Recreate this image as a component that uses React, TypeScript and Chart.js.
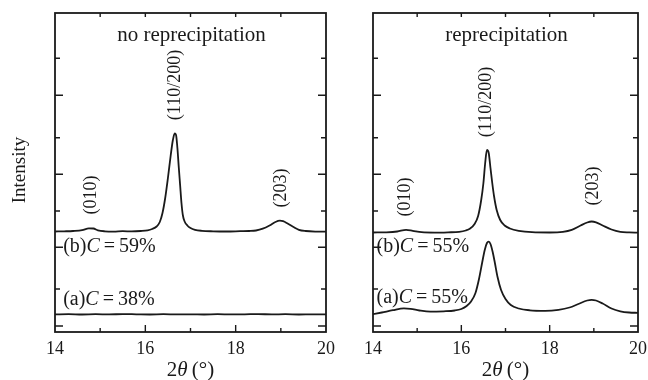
import React, { useEffect, useRef } from 'react';
import { Chart, registerables } from 'chart.js';
Chart.register(...registerables);

const FONT = '"Liberation Serif", "Times New Roman", serif';
const INK = '#1a1a1a';

// Axes
const xMin = 14;
const xMax = 20;
const xLabelTicks = [14, 16, 18, 20];
const xMinorTicks = [15, 17, 19];
const yMin = 0;
const yMax = 319;
const yTicks = [6, 43, 84.7, 121, 157.7, 194.3, 236.7, 273.7];

// Texts
const panelTitles = ['no reprecipitation', 'reprecipitation'];
const peakNames = ['(010)', '(110/200)', '(203)'];
const curveTags = ['(b)', '(a)'];
const leftConc = ['59%', '38%'];
const rightConc = ['55%', '55%'];
const yTitle = 'Intensity';

// Left panel, (b) C=59%
const leftB_x = [14.0, 14.2, 14.4, 14.6, 14.75, 14.85, 14.95, 15.1, 15.3, 15.5, 15.7, 15.9, 16.05, 16.15, 16.25, 16.32, 16.38, 16.44, 16.5, 16.56, 16.61, 16.65, 16.68, 16.71, 16.74, 16.77, 16.8, 16.83, 16.87, 16.93, 17.0, 17.1, 17.25, 17.5, 17.8, 18.1, 18.3, 18.45, 18.6, 18.75, 18.88, 18.98, 19.05, 19.15, 19.28, 19.4, 19.55, 19.8, 20.0];
const leftB_y = [100.5, 100.7, 101, 101.8, 103.7, 103.5, 101.7, 100.7, 100.4, 100.8, 100.6, 101, 101.7, 103, 105.5, 110, 119, 134, 154, 176, 192, 198.5, 197, 184, 165, 147, 129, 117, 110.5, 106.5, 104, 102.2, 101.2, 100.7, 100.5, 100.8, 101, 101.5, 103.3, 106.5, 110, 111.3, 110.8, 108.5, 105, 102.2, 101, 100.4, 100.3];

// Left panel, (a) C=38%
const leftA_x = [14.0, 14.3, 14.6, 14.9, 15.2, 15.5, 15.8, 16.1, 16.4, 16.7, 17.0, 17.3, 17.6, 17.9, 18.2, 18.5, 18.8, 19.1, 19.4, 19.7, 20.0];
const leftA_y = [17.6, 17.9, 17.5, 17.8, 17.6, 17.9, 17.7, 17.5, 17.8, 17.6, 17.7, 17.5, 17.8, 17.6, 17.7, 17.9, 17.6, 17.8, 17.5, 17.7, 17.6];

// Right panel, (b) C=55%
const rightB_x = [14.0, 14.3, 14.55, 14.75, 14.9, 15.1, 15.4, 15.7, 15.95, 16.1, 16.2, 16.3, 16.38, 16.45, 16.5, 16.54, 16.58, 16.62, 16.66, 16.7, 16.74, 16.8, 16.88, 16.98, 17.1, 17.3, 17.6, 18.0, 18.3, 18.5, 18.7, 18.85, 18.95, 19.05, 19.2, 19.4, 19.6, 19.8, 20.0];
const rightB_y = [99.5, 99.7, 100.5, 102.2, 101.2, 99.8, 99.4, 99.7, 100.2, 101.5, 103.5, 108, 116, 132, 149, 169, 182, 179, 164, 149, 136, 122, 112, 106.5, 103.5, 101.2, 99.8, 99.5, 100.2, 102.2, 106.5, 109.5, 110.5, 109.7, 106.5, 102.5, 100.2, 99.6, 99.3];

// Right panel, (a) C=55%
const rightA_x = [14.0, 14.2, 14.45, 14.7, 14.85, 15.05, 15.3, 15.6, 15.85, 16.0, 16.12, 16.22, 16.32, 16.4, 16.47, 16.53, 16.58, 16.62, 16.66, 16.71, 16.76, 16.82, 16.9, 17.0, 17.12, 17.3, 17.55, 17.9, 18.2, 18.45, 18.65, 18.85, 18.95, 19.05, 19.2, 19.4, 19.6, 19.8, 20.0];
const rightA_y = [17.8, 19.5, 21.8, 23.6, 23.2, 21.5, 20.3, 20.7, 21.5, 23, 26, 30.5, 39, 53, 69, 82, 89, 90.3, 88, 80, 69, 55, 42, 33, 27, 23.5, 21.7, 21.2, 22.2, 24.5, 28, 31.5, 32.2, 31.5, 28.5, 23.5, 20.7, 19.5, 19.2];

type Part = [string, boolean];

function drawRich(ctx: CanvasRenderingContext2D, parts: Part[], x: number, y: number, size: number, align: 'left' | 'center') {
  const widths = parts.map(([t, it]) => {
    ctx.font = `${it ? 'italic ' : ''}${size}px ${FONT}`;
    return ctx.measureText(t).width;
  });
  const total = widths.reduce((a, b) => a + b, 0);
  let cx = align === 'center' ? x - total / 2 : x;
  ctx.textAlign = 'left';
  ctx.textBaseline = 'middle';
  parts.forEach(([t, it], i) => {
    ctx.font = `${it ? 'italic ' : ''}${size}px ${FONT}`;
    ctx.fillText(t, cx, y);
    cx += widths[i];
  });
}

interface PanelCfg {
  title: string;
  titleY: number;
  peakX: number[];
  peakY: number[];
  conc: string[];
  tagX: number;
  tagY: number[];
  series: { x: number[]; y: number[] }[];
  padLeft: number;
  padRight: number;
  showYTitle: boolean;
  width: number;
}

function makeDecor(cfg: PanelCfg) {
  return {
    id: 'decor',
    afterDraw(chart: any) {
      const { ctx, chartArea: a, scales } = chart;
      const xs = scales.x;
      const ys = scales.y;
      ctx.save();
      ctx.strokeStyle = INK;
      ctx.lineWidth = 1.8;
      ctx.strokeRect(a.left, a.top, a.right - a.left, a.bottom - a.top);
      ctx.lineWidth = 1.4;
      ctx.beginPath();
      const xt: [number, number][] = [
        ...xLabelTicks.map((v) => [v, 7] as [number, number]),
        ...xMinorTicks.map((v) => [v, 4] as [number, number]),
      ];
      for (const [v, len] of xt) {
        if (v === xMin || v === xMax) continue;
        const px = xs.getPixelForValue(v);
        ctx.moveTo(px, a.bottom);
        ctx.lineTo(px, a.bottom - len);
        ctx.moveTo(px, a.top);
        ctx.lineTo(px, a.top + 4);
      }
      yTicks.forEach((v, i) => {
        const py = ys.getPixelForValue(v);
        const len = i % 2 === 0 ? 8 : 5;
        ctx.moveTo(a.left, py);
        ctx.lineTo(a.left + len, py);
        ctx.moveTo(a.right, py);
        ctx.lineTo(a.right - len, py);
      });
      ctx.stroke();

      ctx.fillStyle = INK;
      const cxArea = (a.left + a.right) / 2;
      drawRich(ctx, [[cfg.title, false]], cxArea + 1, ys.getPixelForValue(cfg.titleY), 21, 'center');

      peakNames.forEach((name, i) => {
        const px = xs.getPixelForValue(cfg.peakX[i]);
        const py = ys.getPixelForValue(cfg.peakY[i]);
        ctx.save();
        ctx.translate(px, py);
        ctx.rotate(-Math.PI / 2);
        drawRich(ctx, [[name, false]], 0, 0, 18, 'center');
        ctx.restore();
      });

      curveTags.forEach((tag, i) => {
        drawRich(
          ctx,
          [[tag, false], ['C', true], ['\u2009=\u2009' + cfg.conc[i], false]],
          xs.getPixelForValue(cfg.tagX),
          ys.getPixelForValue(cfg.tagY[i]),
          20,
          'left'
        );
      });

      drawRich(ctx, [['2', false], ['\u03B8', true], ['\u2009(\u00B0)', false]], cxArea, 370, 21, 'center');

      if (cfg.showYTitle) {
        ctx.save();
        ctx.translate(20, 170);
        ctx.rotate(-Math.PI / 2);
        drawRich(ctx, [[yTitle, false]], 0, 0, 19, 'center');
        ctx.restore();
      }
      ctx.restore();
    },
  };
}

function Panel({ left, cfg }: { left: number; cfg: PanelCfg }) {
  const ref = useRef<HTMLCanvasElement>(null);
  useEffect(() => {
    const chart = new Chart(ref.current as HTMLCanvasElement, {
      type: 'line',
      data: {
        datasets: cfg.series.map((s) => ({
          data: s.x.map((x, i) => ({ x, y: s.y[i] })),
          borderColor: INK,
          borderWidth: 1.8,
          pointRadius: 0,
          cubicInterpolationMode: 'monotone' as const,
          fill: false,
        })),
      },
      options: {
        responsive: false,
        animation: false,
        devicePixelRatio: 1,
        layout: { padding: { left: cfg.padLeft, right: cfg.padRight, top: 13, bottom: 0 } },
        plugins: { legend: { display: false }, tooltip: { enabled: false } },
        scales: {
          x: {
            type: 'linear',
            min: xMin,
            max: xMax,
            afterBuildTicks: (s: any) => {
              s.ticks = xLabelTicks.map((v) => ({ value: v }));
            },
            afterFit: (s: any) => {
              s.height = 48;
            },
            grid: { display: false },
            border: { display: false },
            ticks: {
              autoSkip: false,
              maxRotation: 0,
              padding: -2,
              color: INK,
              font: { family: FONT, size: 18 },
            },
          },
          y: { type: 'linear', display: false, min: yMin, max: yMax },
        },
      },
      plugins: [makeDecor(cfg)],
    } as any);
    return () => chart.destroy();
  }, []);
  return (
    <canvas
      ref={ref}
      width={cfg.width}
      height={380}
      style={{ position: 'absolute', left, top: 0, width: cfg.width, height: 380 }}
    />
  );
}

const leftCfg: PanelCfg = {
  title: panelTitles[0],
  titleY: 297,
  peakX: [14.81, 16.67, 19.02],
  peakY: [137, 247, 144],
  conc: leftConc,
  tagX: 14.18,
  tagY: [85, 32],
  series: [
    { x: leftB_x, y: leftB_y },
    { x: leftA_x, y: leftA_y },
  ],
  padLeft: 55,
  padRight: 19,
  showYTitle: true,
  width: 345,
};

const rightCfg: PanelCfg = {
  title: panelTitles[1],
  titleY: 297,
  peakX: [14.72, 16.57, 18.99],
  peakY: [135, 230, 146],
  conc: rightConc,
  tagX: 14.08,
  tagY: [85, 34],
  series: [
    { x: rightB_x, y: rightB_y },
    { x: rightA_x, y: rightA_y },
  ],
  padLeft: 28,
  padRight: 20,
  showYTitle: false,
  width: 313,
};

export default function App() {
  return (
    <div style={{ position: 'fixed', left: 0, top: 0, width: 648, height: 380, background: '#fff', overflow: 'hidden' }}>
      <Panel left={0} cfg={leftCfg} />
      <Panel left={345} cfg={rightCfg} />
    </div>
  );
}
